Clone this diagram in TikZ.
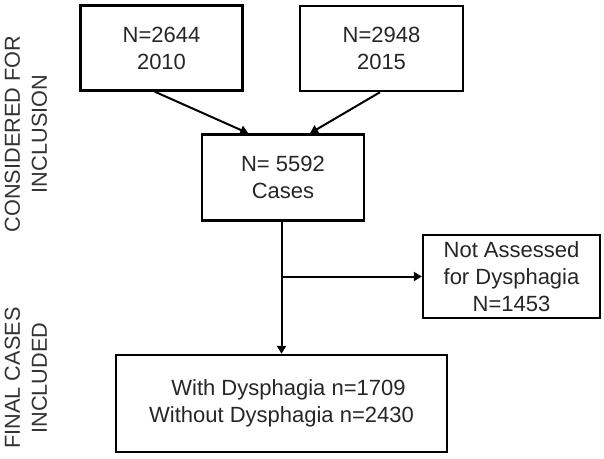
\documentclass[tikz,border=0pt]{standalone}
\usepackage{fontspec}
\setmainfont{Liberation Sans}
\usetikzlibrary{arrows.meta,calc}
\begin{document}
\begin{tikzpicture}[x=1pt,y=1pt,
  box/.style={draw=black,line width=2.4pt,align=center,inner sep=0pt,
    font=\fontsize{22}{27}\selectfont,text=black!85},
  side/.style={rotate=90,align=center,inner sep=0pt,
    font=\fontsize{21.7}{27}\selectfont,text=black!80},
  arr/.style={line width=2pt,-{Triangle[length=8pt,width=9pt]}}]
\useasboundingbox (0,0) rectangle (604,-458);
\node[box,minimum width=162,minimum height=85] (b1) at (161.5,-48) {N=2644\\2010};
\node[box,minimum width=163,minimum height=85] (b2) at (381.5,-48.5) {N=2948\\2015};
\node[box,minimum width=162,minimum height=86] (b3) at (283,-177.5) {N= 5592\\Cases};
\node[box,minimum width=177,minimum height=83] (b4) at (511.5,-276.5) {Not Assessed\\for Dysphagia\\N=1453};
\node[box,minimum width=331,minimum height=97] (b5) at (281.5,-403.5) {\hspace*{14pt}With Dysphagia n=1709\\Without Dysphagia n=2430};
\node[side] (l1) at (26,-134) {CONSIDERED FOR\\INCLUSION};
\node[side] (l2) at (26,-378) {FINAL CASES\\INCLUDED};
\draw[arr] ([xshift=-6.7pt]b1.south) -- ([xshift=-34.7pt]b3.north);
\draw[arr] ([xshift=-1.5pt]b2.south) -- ([xshift=27pt]b3.north);
\draw[arr] (b3.south -| b5.north) -- (b5.north);
\draw[arr] (b4.west -| b5.north) -- (b4.west);
\end{tikzpicture}
\end{document}
